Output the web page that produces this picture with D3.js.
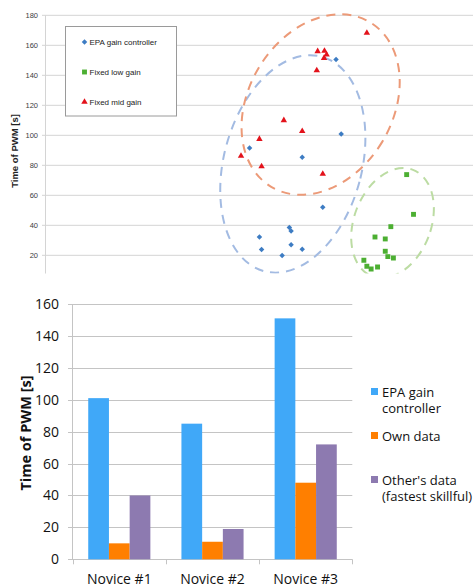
<!DOCTYPE html>
<html>
<head>
<meta charset="utf-8">
<script src="https://cdn.jsdelivr.net/npm/d3@7"></script>
<style>
  body { margin: 0; background: #fff; }
  svg { display: block; }
</style>
</head>
<body>
<div id="chart"></div>
<script>
// ---- top chart data (scatter) ----
var scatterSeries = ["EPA gain controller", "Fixed low gain", "Fixed mid gain"];
var epaX = [68.0, 69.2, 47.8, 60.1, 64.9, 57.1, 57.5, 50.1, 57.5, 50.6, 60.1, 55.4];
var epaY = [150.5, 100.9, 91.5, 85.3, 52, 38.5, 36.2, 32.2, 27.1, 23.8, 24, 19.8];
var lowX = [84.5, 86.1, 80.8, 77.1, 79.5, 79.5, 80.1, 81.4, 74.5, 75.2, 76.2, 77.7];
var lowY = [73.8, 47.3, 39.1, 32.2, 30.9, 22.7, 19.1, 18.2, 16.7, 12.7, 10.9, 12.2];
var midX = [75.2, 63.7, 65.3, 65.8, 65.2, 63.5, 55.8, 60.1, 50.1, 45.8, 50.6, 64.9];
var midY = [168.2, 156, 156.2, 153.8, 151.5, 143.3, 110, 102.7, 97.5, 86.2, 79.3, 74.2];
var scatterTicks = [20, 40, 60, 80, 100, 120, 140, 160, 180];
// cluster centres in data units
var clusterX = [57.9, 81.2, 64.4];
var clusterY = [80.9, 41.5, 120.5];

// ---- bottom chart data (bars) ----
var novices = ["Novice #1", "Novice #2", "Novice #3"];
var barSeries = ["EPA gain controller", "Own data", "Other's data (fastest skillful)"];
var epaTime = [101, 85, 151];
var ownTime = [10, 11, 48];
var otherTime = [40, 19, 72];
var barTicks = [0, 20, 40, 60, 80, 100, 120, 140, 160];

var W = 473, H = 587;
var svg = d3.select("#chart").append("svg")
  .attr("width", W).attr("height", H);

// ================= TOP CHART =================
var top_ = svg.append("g");
var xT = d3.scaleLinear().domain([0, 100]).range([45, 473]);
var yT = d3.scaleLinear().domain([0, 180]).range([285.3, 15.3]);

top_.append("clipPath").attr("id", "clipTop")
  .append("rect").attr("x", 0).attr("y", 0).attr("width", W).attr("height", 273.5);

var gT = top_.append("g").attr("clip-path", "url(#clipTop)");

gT.selectAll(".gridT").data(scatterTicks).enter().append("line")
  .attr("x1", 42).attr("x2", W)
  .attr("y1", d => yT(d)).attr("y2", d => yT(d))
  .style("stroke", "#d4d4d4").style("stroke-width", 1);

gT.append("line")
  .attr("x1", 45.5).attr("x2", 45.5).attr("y1", yT(180)).attr("y2", 274)
  .style("stroke", "#d4d4d4");

top_.selectAll(".tickT").data(scatterTicks).enter().append("text")
  .attr("x", 38).attr("y", d => yT(d) + 2.8)
  .attr("text-anchor", "end")
  .style("font-family", "Liberation Sans, Arial, sans-serif")
  .style("font-size", "7.5px").style("fill", "#404040")
  .text(d => d);

top_.append("text")
  .attr("transform", "translate(18," + 151 + ") rotate(-90)")
  .attr("text-anchor", "middle")
  .style("font-family", "Liberation Sans, Arial, sans-serif")
  .style("font-size", "9.5px").style("font-weight", "bold").style("fill", "#222")
  .text("Time of PWM [s]");

// dashed clusters
var clusterColor = ["#a3bbe2", "#bcdca3", "#ec9a78"];
var clusterRx = [69, 38.5, 72];
var clusterRy = [111, 57, 96];
var clusterRot = [15, 21, 31];
gT.selectAll(".cluster").data(clusterX).enter().append("ellipse")
  .attr("cx", 0).attr("cy", 0)
  .attr("rx", (d, i) => clusterRx[i]).attr("ry", (d, i) => clusterRy[i])
  .attr("transform", (d, i) => `translate(${xT(d)},${yT(clusterY[i])}) rotate(${clusterRot[i]})`)
  .style("fill", "none")
  .style("stroke", (d, i) => clusterColor[i])
  .style("stroke-width", 2)
  .style("stroke-dasharray", "9 7");

var markerColor = ["#3d7cc3", "#4caf32", "#e3121b"];
var markerShape = [d3.symbolSquare, d3.symbolSquare, d3.symbolTriangle];
var markerSize = [15, 24, 18];
var markerRot = [45, 0, 0];
var scatterData = [
  epaX.map((x, i) => ({ x: x, y: epaY[i] })),
  lowX.map((x, i) => ({ x: x, y: lowY[i] })),
  midX.map((x, i) => ({ x: x, y: midY[i] }))
];
scatterData.forEach(function (pts, s) {
  gT.selectAll(".pt" + s).data(pts).enter().append("path")
    .attr("d", d3.symbol().type(markerShape[s]).size(markerSize[s]))
    .attr("transform", d => `translate(${xT(d.x)},${yT(d.y)}) rotate(${markerRot[s]})`)
    .style("fill", markerColor[s]);
});

// legend box
var lg = top_.append("g");
lg.append("rect").attr("x", 65.5).attr("y", 26.5).attr("width", 111).attr("height", 89.5)
  .style("fill", "#fff").style("stroke", "#9a9a9a");
scatterSeries.forEach(function (name, i) {
  var cy = 42 + i * 30;
  lg.append("path")
    .attr("d", d3.symbol().type(markerShape[i]).size(markerSize[i]))
    .attr("transform", `translate(84.5,${cy}) rotate(${markerRot[i]})`)
    .style("fill", markerColor[i]);
  lg.append("text").attr("x", 89.5).attr("y", cy + 2.8)
    .style("font-family", "Liberation Sans, Arial, sans-serif")
    .style("font-size", "8px").style("fill", "#222")
    .text(name);
});

// ================= BOTTOM CHART =================
var bot = svg.append("g");
var yB = d3.scaleLinear().domain([0, 160]).range([559.3, 304]);
var xB = d3.scaleBand().domain(novices).range([72.7, 352.3])
  .paddingInner(1 / 3).paddingOuter(1 / 6);
var xS = d3.scaleBand().domain(barSeries).range([0, xB.bandwidth()]);
var barColor = ["#40a8f8", "#ff7f00", "#8d7ab0"];
var seriesVals = [epaTime, ownTime, otherTime];

bot.selectAll(".gridB").data(barTicks).enter().append("line")
  .attr("x1", 68).attr("x2", 352.3)
  .attr("y1", d => Math.round(yB(d)) + 0.5).attr("y2", d => Math.round(yB(d)) + 0.5)
  .style("stroke", "#c4c4c4");

bot.append("line")
  .attr("x1", 72.5).attr("x2", 72.5).attr("y1", yB(160)).attr("y2", yB(0))
  .style("stroke", "#c4c4c4");

// category ticks
var edges = novices.map(d => xB(d) - xB.step() * xB.paddingInner() / 2);
edges.push(352.3);
bot.selectAll(".ctick").data(edges).enter().append("line")
  .attr("x1", d => Math.round(d) + 0.5).attr("x2", d => Math.round(d) + 0.5)
  .attr("y1", yB(0)).attr("y2", yB(0) + 5)
  .style("stroke", "#c4c4c4");

bot.selectAll(".tickB").data(barTicks).enter().append("text")
  .attr("x", 59).attr("y", d => yB(d) + 5)
  .attr("text-anchor", "end")
  .style("font-family", "Open Sans, sans-serif")
  .style("font-size", "14px").style("fill", "#111")
  .text(d => d);

bot.selectAll(".cat").data(novices).enter().append("text")
  .attr("x", d => xB(d) + xB.bandwidth() / 2).attr("y", 584)
  .attr("text-anchor", "middle")
  .style("font-family", "Open Sans, sans-serif")
  .style("font-size", "14px").style("fill", "#111")
  .text(d => d);

bot.append("text")
  .attr("transform", "translate(31,433) rotate(-90)")
  .attr("text-anchor", "middle")
  .style("font-family", "Open Sans, sans-serif")
  .style("font-size", "14.5px").style("font-weight", "bold").style("fill", "#111")
  .text("Time of PWM [s]");

seriesVals.forEach(function (vals, s) {
  bot.selectAll(".bar" + s).data(novices).enter().append("rect")
    .attr("x", d => xB(d) + xS(barSeries[s]))
    .attr("width", xS.bandwidth())
    .attr("y", (d, i) => yB(vals[i]))
    .attr("height", (d, i) => yB(0) - yB(vals[i]))
    .style("fill", barColor[s]);
});

// legend
var legLines = [["EPA gain", "controller"], ["Own data"], ["Other's data", "(fastest skillful)"]];
var legY = [392, 436, 480];
legLines.forEach(function (lines, i) {
  bot.append("rect").attr("x", 371).attr("y", legY[i] - 4).attr("width", 7).attr("height", 7)
    .style("fill", barColor[i]);
  var t = bot.append("text")
    .style("font-family", "Open Sans, sans-serif")
    .style("font-size", "13px").style("fill", "#111");
  lines.forEach(function (ln, j) {
    t.append("tspan").attr("x", 382).attr("y", legY[i] + 4.5 + j * 16.5).text(ln);
  });
});
</script>
</body>
</html>
